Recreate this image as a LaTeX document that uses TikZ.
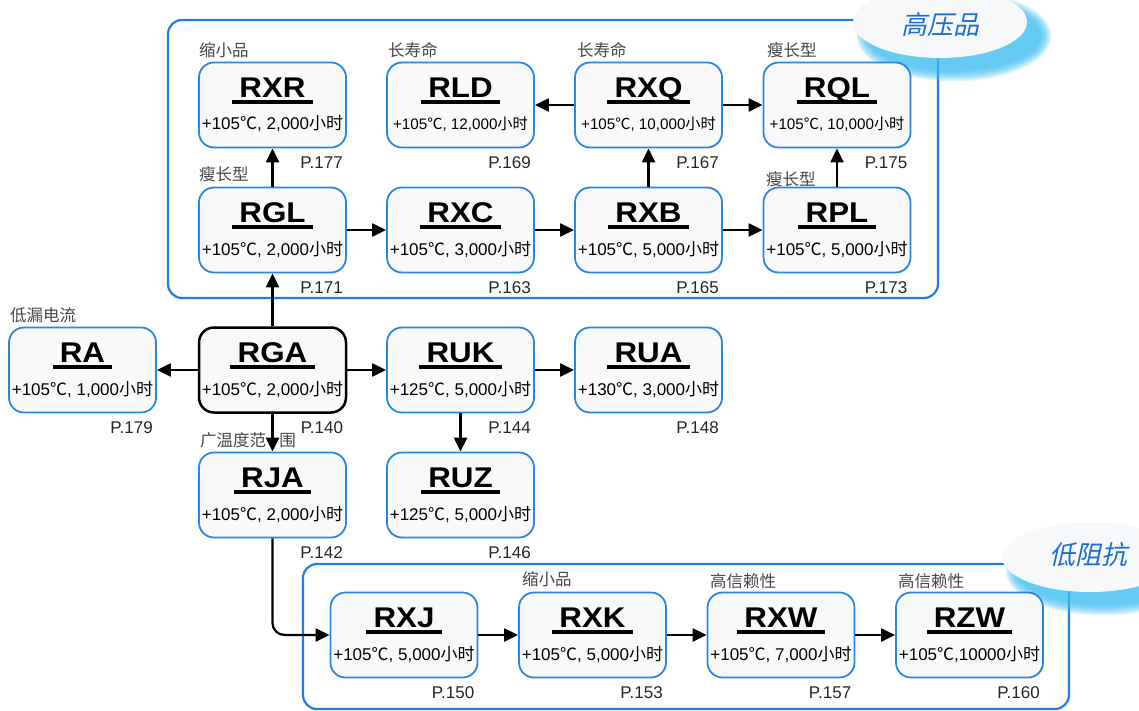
\documentclass[tikz,border=0pt]{standalone}
\usepackage{fontspec}
\usepackage{graphicx}
\setmainfont{Liberation Sans}
\newfontfamily\cjk{Noto Sans CJK SC}
\newfontfamily\cjkit[FakeSlant=0.22]{Noto Sans CJK SC}
\usetikzlibrary{arrows.meta}
\definecolor{boxblue}{HTML}{2A86E0}
\definecolor{contblue}{HTML}{1F80E2}
\definecolor{boxfill}{HTML}{F9F9F9}
\definecolor{shadowcyan}{HTML}{3FBFF0}
\definecolor{elltext}{HTML}{1C6FD0}
\definecolor{ellfill}{HTML}{F6F8F9}
\newcommand\dc{{\cjk ℃}}
\newcommand\xs{{\cjk 小时}}
\newcommand\sm{\fontsize{15.2}{16}\selectfont}
\newcommand\pbox[7][box]{%
  \node[#1] (#2) at (#3,#4) {};
  \node[ttl] (#2t) at ([yshift=7.5pt]#2.center) {\scalebox{1.1}[1]{#5}};
  \draw[uline] ([xshift=-7pt,yshift=-4.5pt]#2t.base west) -- ([xshift=7pt,yshift=-4.5pt]#2t.base east);
  \node[spec] (#2s) at ([yshift=-25pt]#2.center) {#6};
  \node[pg] (#2p) at ([xshift=-4pt,yshift=-20pt]#2.south east) {#7};
}
\begin{document}
\begin{tikzpicture}[x=1pt,y=-1pt,
  box/.style={draw=boxblue, line width=1.8pt, fill=boxfill, rounded corners=15pt,
    minimum width=147pt, minimum height=85pt, inner sep=0pt},
  bbox/.style={box, draw=black, line width=2.5pt},
  ttl/.style={font=\fontsize{28.5}{28.5}\selectfont\bfseries, inner sep=0pt, anchor=base},
  uline/.style={line width=3.2pt},
  spec/.style={font=\fontsize{17}{17}\selectfont, inner sep=0pt, anchor=base},
  pg/.style={font=\fontsize{17}{17}\selectfont, inner sep=0pt, anchor=base east, text=black!85},
  cat/.style={font=\cjk\fontsize{16.5}{16.5}\selectfont, inner sep=0pt, anchor=west, text=black!72},
  arr/.style={line width=2.2pt, -{Triangle[length=14pt,width=13pt]}},
  cont/.style={draw=contblue, line width=2.2pt, rounded corners=14pt},
  elltxt/.style={font=\cjkit\fontsize{26}{26}\selectfont, text=elltext, inner sep=0pt}
]
\path[use as bounding box, clip] (0,0) rectangle (1139,711);
\fill[white] (0,0) rectangle (1139,711);

% containers
\draw[cont] (168,20) rectangle (938,298);
\draw[cont] (303,564) rectangle (1069,709);

% ellipse badges with soft cyan shadows
\foreach \i in {0,...,6} {
  \fill[shadowcyan, opacity=0.2] (954,36) ellipse [x radius={87+\i*1.7}, y radius={35+\i*1.7}];
  \fill[shadowcyan, opacity=0.2] (1103,571) ellipse [x radius={87+\i*1.7}, y radius={34+\i*1.7}];
}
\fill[ellfill] (940,22) ellipse [x radius=87, y radius=36];
\fill[ellfill] (1090,557) ellipse [x radius=88, y radius=35];
\node[elltxt] (hv) at (940,25) {高压品};
\node[elltxt] (lz) at (1088,555) {低阻抗};

% boxes
\pbox{RXR}{272.5}{105}{RXR}{+105\dc, 2,000\xs}{P.177}
\pbox{RLD}{460.5}{105}{RLD}{\sm +105\dc, 12,000\xs}{P.169}
\pbox{RXQ}{648.5}{105}{RXQ}{\sm +105\dc, 10,000\xs}{P.167}
\pbox{RQL}{837}{105}{RQL}{\sm +105\dc, 10,000\xs}{P.175}
\pbox{RGL}{272.5}{230}{RGL}{+105\dc, 2,000\xs}{P.171}
\pbox{RXC}{460.5}{230}{RXC}{+105\dc, 3,000\xs}{P.163}
\pbox{RXB}{648.5}{230}{RXB}{+105\dc, 5,000\xs}{P.165}
\pbox{RPL}{837}{230}{RPL}{+105\dc, 5,000\xs}{P.173}
\pbox{RA}{82.5}{370}{RA}{+105\dc, 1,000\xs}{P.179}
\pbox[bbox]{RGA}{272.5}{370}{RGA}{+105\dc, 2,000\xs}{P.140}
\pbox{RUK}{460.5}{370}{RUK}{+125\dc, 5,000\xs}{P.144}
\pbox{RUA}{648.5}{370}{RUA}{+130\dc, 3,000\xs}{P.148}
\pbox{RJA}{272.5}{495}{RJA}{+105\dc, 2,000\xs}{P.142}
\pbox{RUZ}{460.5}{495}{RUZ}{+125\dc, 5,000\xs}{P.146}
\pbox{RXJ}{404}{635}{RXJ}{+105\dc, 5,000\xs}{P.150}
\pbox{RXK}{592.5}{635}{RXK}{+105\dc, 5,000\xs}{P.153}
\pbox{RXW}{781}{635}{RXW}{+105\dc, 7,000\xs}{P.157}
\pbox{RZW}{969.5}{635}{RZW}{+105\dc,10000\xs}{P.160}

% category labels
\node[cat] (c1) at (199,50) {缩小品};
\node[cat] (c2) at (388,50) {长寿命};
\node[cat] (c3) at (577,50) {长寿命};
\node[cat] (c4) at (767,50) {瘦长型};
\node[cat] (c5) at (199,174) {瘦长型};
\node[cat] (c6) at (766,179) {瘦长型};
\node[cat] (c7) at (10,315) {低漏电流};
\node[cat] (c8) at (200,440) {广温度范\hspace{0.8em}围};
\node[cat] (c9) at (522,579) {缩小品};
\node[cat] (c10) at (710,581) {高信赖性};
\node[cat] (c11) at (898,581) {高信赖性};

% connectors
\draw[arr] (RGL.north) -- (RXR.south);
\draw[arr] (RGA.north) -- (RGL.south);
\draw[arr] (RGL.east) -- (RXC.west);
\draw[arr] (RXC.east) -- (RXB.west);
\draw[arr] (RXB.east) -- (RPL.west);
\draw[arr] (RXB.north) -- (RXQ.south);
\draw[arr] (RXQ.west) -- (RLD.east);
\draw[arr] (RXQ.east) -- (RQL.west);
\draw[arr] (RPL.north) -- (RQL.south);
\draw[arr] (RGA.west) -- (RA.east);
\draw[arr] (RGA.east) -- (RUK.west);
\draw[arr] (RUK.east) -- (RUA.west);
\draw[arr] (RUK.south) -- (RUZ.north);
\draw[arr] (RGA.south) -- (RJA.north);
\draw[arr, rounded corners=12pt] (RJA.south) |- (RXJ.west);
\draw[arr] (RXJ.east) -- (RXK.west);
\draw[arr] (RXK.east) -- (RXW.west);
\draw[arr] (RXW.east) -- (RZW.west);
\end{tikzpicture}
\end{document}
